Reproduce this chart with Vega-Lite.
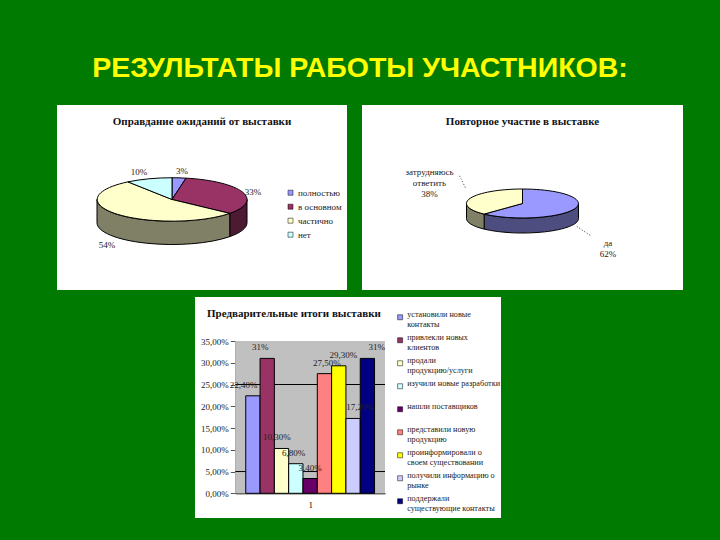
{
"$schema":"https://vega.github.io/schema/vega-lite/v6.json",
"background":"#007A00",
"padding":{"left":57,"top":53,"right":37,"bottom":22},
"title":{"text":"РЕЗУЛЬТАТЫ РАБОТЫ УЧАСТНИКОВ:","font":"Liberation Sans","fontWeight":"bold","fontSize":28.5,"color":"#FFFF00","anchor":"middle","dx":-10,"offset":23},
"config":{"view":{"stroke":null},"text":{"font":"Liberation Serif","fontSize":9,"color":"#222222"},"legend":{"labelFont":"Liberation Serif","labelColor":"#222222","padding":0},"axis":{"labelFont":"Liberation Serif","titleFont":"Liberation Serif"}},
"datasets":{
"p1":[{"slice":"полностью","value":3,"label":"3%"},{"slice":"в основном","value":33,"label":"33%"},{"slice":"частично","value":54,"label":"54%"},{"slice":"нет","value":10,"label":"10%"}],
"p2":[{"slice":"да","value":62,"label":"да|62%"},{"slice":"затрудняюсь ответить","value":38,"label":"затрудняюсь|ответить|38%"}],
"p3":[
{"item":"установили новые|контакты","value":22.4,"label":"22,40%"},
{"item":"привлекли новых|клиентов","value":31,"label":"31%"},
{"item":"продали|продукцию/услуги","value":10.3,"label":"10,30%"},
{"item":"изучили новые разработки","value":6.8,"label":"6,80%"},
{"item":"нашли поставщиков","value":3.4,"label":"3,40%"},
{"item":"представили новую|продукцию","value":27.5,"label":"27,50%"},
{"item":"проинформировали о|своем существовании","value":29.3,"label":"29,30%"},
{"item":"получили информацию о|рынке","value":17.2,"label":"17,20%"},
{"item":"поддержали|существующие контакты","value":31,"label":"31%"}]
},
"resolve":{"scale":{"fill":"independent","shape":"independent"},"legend":{"fill":"independent"}},
"vconcat":[
{"hconcat":[
{"width":290,"height":185,"view":{"fill":"white","stroke":null},
"title":{"text":"Оправдание ожиданий от выставки","font":"Liberation Serif","fontWeight":"bold","fontSize":11,"color":"#111111","anchor":"middle","offset":-22},
"data":{"name":"p1"},
"layer":[
{"transform":[{"filter":"datum.slice==='в основном'"}],"mark":{"type":"point","filled":true,"fill":"#4D1A33","stroke":"black","strokeWidth":1,"opacity":1,"size":22500,"xOffset":-30,"yOffset":2,"shape":"M1 0 L1 0.31 A1 0.29 0 0 1 0.77 0.495 L0.77 0.185 A1 0.29 0 0 0 1 0 Z"},"encoding":{}},
{"transform":[{"filter":"datum.slice==='частично'"}],"mark":{"type":"point","filled":true,"fill":"#808066","stroke":"black","strokeWidth":1,"opacity":1,"size":22500,"xOffset":-30,"yOffset":2,"shape":"M0.77 0.185 L0.77 0.495 A1 0.29 0 0 1 -1 0.31 L-1 0 A1 0.29 0 0 0 0.77 0.185 Z"},"encoding":{}},
{"mark":{"type":"point","filled":true,"stroke":"black","strokeWidth":1,"opacity":1,"size":22500,"xOffset":-30,"yOffset":2},
"encoding":{
"shape":{"field":"slice","type":"nominal","legend":null,"scale":{"domain":["нет","частично","в основном","полностью"],"range":["M0 0 L-0.588 -0.235 A1 0.29 0 0 1 0 -0.29 Z","M0 0 L0.77 0.185 A1 0.29 0 1 1 -0.588 -0.235 Z","M0 0 L0.187 -0.285 A1 0.29 0 0 1 0.77 0.185 Z","M0 0 L0 -0.29 A1 0.29 0 0 1 0.187 -0.285 Z"]}},
"fill":{"field":"slice","type":"nominal","scale":{"domain":["полностью","в основном","частично","нет"],"range":["#9999FF","#993366","#FFFFCC","#CCFFFF"]},
"legend":{"title":null,"orient":"none","legendX":229,"legendY":81,"symbolType":"square","symbolSize":25,"symbolStrokeColor":"black","symbolStrokeWidth":0.5,"labelFontSize":9,"labelOffset":3,"clipHeight":13.4,"rowPadding":0}}}},
{"transform":[{"filter":"datum.slice==='полностью'"}],"mark":{"type":"text","xOffset":-20,"yOffset":-27},"encoding":{"text":{"field":"label"}}},
{"transform":[{"filter":"datum.slice==='в основном'"}],"mark":{"type":"text","xOffset":51,"yOffset":-5.5},"encoding":{"text":{"field":"label"}}},
{"transform":[{"filter":"datum.slice==='частично'"}],"mark":{"type":"text","xOffset":-95,"yOffset":47.5},"encoding":{"text":{"field":"label"}}},
{"transform":[{"filter":"datum.slice==='нет'"}],"mark":{"type":"text","xOffset":-63,"yOffset":-25.5},"encoding":{"text":{"field":"label"}}}
]},
{"width":321,"height":185,"view":{"fill":"white","stroke":null},
"title":{"text":"Повторное участие в выставке","font":"Liberation Serif","fontWeight":"bold","fontSize":11,"color":"#111111","anchor":"middle","offset":-22},
"data":{"name":"p2"},
"layer":[
{"transform":[{"filter":"datum.slice==='да'"}],"mark":{"type":"point","filled":true,"fill":"#4D4D80","stroke":"black","strokeWidth":1,"opacity":1,"size":12544,"yOffset":6,"shape":"M1 0 L1 0.268 A1 0.259 0 0 1 -0.685 0.457 L-0.685 0.189 A1 0.259 0 0 0 1 0 Z"},"encoding":{}},
{"transform":[{"filter":"datum.slice==='затрудняюсь ответить'"}],"mark":{"type":"point","filled":true,"fill":"#808066","stroke":"black","strokeWidth":1,"opacity":1,"size":12544,"yOffset":6,"shape":"M-0.685 0.189 L-0.685 0.457 A1 0.259 0 0 1 -1 0.268 L-1 0 A1 0.259 0 0 0 -0.685 0.189 Z"},"encoding":{}},
{"mark":{"type":"point","filled":true,"stroke":"black","strokeWidth":1,"opacity":1,"size":12544,"yOffset":6},
"encoding":{
"shape":{"field":"slice","type":"nominal","legend":null,"scale":{"domain":["да","затрудняюсь ответить"],"range":["M0 0 L0 -0.259 A1 0.259 0 1 1 -0.685 0.189 Z","M0 0 L-0.685 0.189 A1 0.259 0 0 1 0 -0.259 Z"]}},
"fill":{"field":"slice","type":"nominal","legend":null,"scale":{"domain":["да","затрудняюсь ответить"],"range":["#9999FF","#FFFFCC"]}}}},
{"transform":[{"filter":"datum.slice==='да'"}],"mark":{"type":"point","filled":false,"stroke":"black","strokeWidth":0.8,"strokeDash":[1,2],"opacity":1,"size":12544,"yOffset":6,"shape":"M-1.125 -0.494 L-1.006 -0.256 M0.97 0.41 L1.238 0.589"},"encoding":{}},
{"transform":[{"filter":"datum.slice==='да'"}],"mark":{"type":"text","lineBreak":"|","lineHeight":11,"xOffset":85.5,"yOffset":45.5},"encoding":{"text":{"field":"label"}}},
{"transform":[{"filter":"datum.slice!=='да'"}],"mark":{"type":"text","lineBreak":"|","lineHeight":11,"xOffset":-93,"yOffset":-26},"encoding":{"text":{"field":"label"}}}
]}
],"spacing":15,"resolve":{"scale":{"fill":"independent","shape":"independent"},"legend":{"fill":"independent"}}},
{"hconcat":[
{"width":123,"height":221,"data":{"values":[]},"mark":"point","encoding":{}},
{"width":306,"height":221,"view":{"fill":"white","stroke":null},
"title":{"text":"Предварительные итоги выставки","font":"Liberation Serif","fontWeight":"bold","fontSize":11,"color":"#111111","anchor":"start","offset":-22,"dx":12},
"data":{"name":"p3"},
"resolve":{"scale":{"x":"independent"},"axis":{"x":"independent"}},
"layer":[
{"data":{"values":[{"part":"plot"}]},"mark":{"type":"rect","fill":"#C0C0C0"},
"encoding":{
"x":{"datum":0,"type":"quantitative","scale":{"domain":[0,1],"range":[40.3,190]},"axis":null},
"x2":{"datum":1},
"y":{"datum":0,"type":"quantitative","scale":{"domain":[0,35],"range":[196.3,44],"nice":false},
"axis":{"title":null,"orient":"left","offset":-40.3,"values":[0,5,10,15,20,25,30,35],"labelOverlap":false,"labelExpr":"replace(format(datum.value,'.2f'),'.',',')+'%'","grid":false,"domainColor":"#555555","tickColor":"#555555","labelColor":"#222222","labelFontSize":9}},
"y2":{"datum":35}}},
{"data":{"values":[{"v":5},{"v":25}]},"mark":{"type":"rule","color":"black","strokeWidth":1},
"encoding":{
"x":{"datum":0,"type":"quantitative","scale":{"domain":[0,1],"range":[40.3,190]},"axis":null},
"x2":{"datum":1},
"y":{"field":"v","type":"quantitative","axis":{"title":null,"orient":"left","offset":-40.3,"values":[0,5,10,15,20,25,30,35],"labelOverlap":false,"labelExpr":"replace(format(datum.value,'.2f'),'.',',')+'%'","grid":false,"domainColor":"#555555","tickColor":"#555555","labelColor":"#222222","labelFontSize":9}}}},
{"mark":{"type":"bar","stroke":"black","strokeWidth":1},
"encoding":{
"x":{"field":"item","type":"nominal","sort":null,"scale":{"range":[40.3,190],"paddingInner":0,"paddingOuter":0.73},
"axis":{"orient":"bottom","offset":-24.7,"labels":false,"ticks":false,"title":"1","titleFontSize":9,"titleFontWeight":"normal","titlePadding":7,"domainColor":"black"}},
"y":{"field":"value","type":"quantitative","axis":{"title":null,"orient":"left","offset":-40.3,"values":[0,5,10,15,20,25,30,35],"labelOverlap":false,"labelExpr":"replace(format(datum.value,'.2f'),'.',',')+'%'","grid":false,"domainColor":"#555555","tickColor":"#555555","labelColor":"#222222","labelFontSize":9}},
"fill":{"field":"item","type":"nominal","sort":null,"scale":{"range":["#9999FF","#993366","#FFFFCC","#CCFFFF","#660066","#FF8080","#FFFF00","#CCCCFF","#000080"]},
"legend":{"title":null,"orient":"none","legendX":201,"legendY":9,"symbolType":"square","symbolSize":25,"symbolStrokeColor":"black","symbolStrokeWidth":0.5,"labelFontSize":8.2,"labelOffset":3,"labelLimit":120,"clipHeight":22.5,"rowPadding":0,"labelBaseline":"alphabetic","labelExpr":"split(datum.label,'|')"}}}},
{"mark":{"type":"text","dy":-6,"baseline":"bottom","fontSize":9},
"encoding":{
"x":{"field":"item","type":"nominal","sort":null,"scale":{"range":[40.3,190],"paddingInner":0,"paddingOuter":0.73},"axis":null},
"y":{"field":"value","type":"quantitative","axis":{"title":null,"orient":"left","offset":-40.3,"values":[0,5,10,15,20,25,30,35],"labelOverlap":false,"labelExpr":"replace(format(datum.value,'.2f'),'.',',')+'%'","grid":false,"domainColor":"#555555","tickColor":"#555555","labelColor":"#222222","labelFontSize":9}},
"text":{"field":"label"}}}
]}
],"spacing":15,"resolve":{"scale":{"fill":"independent","shape":"independent"},"legend":{"fill":"independent"}}}
],"spacing":7}
